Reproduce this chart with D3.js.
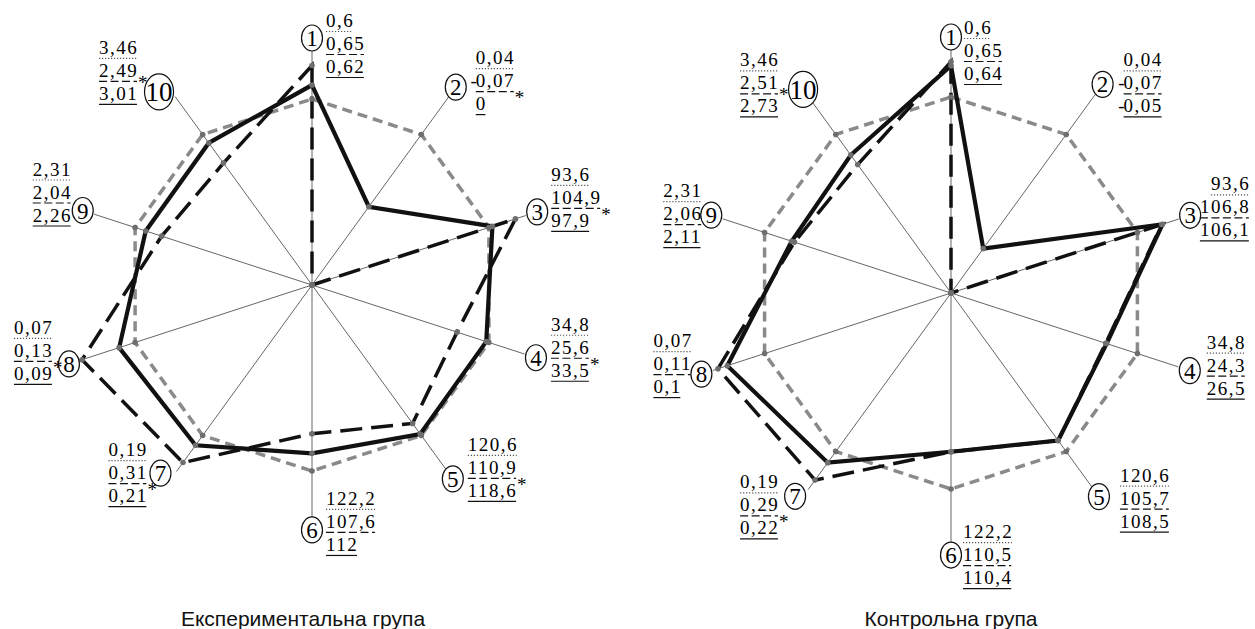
<!DOCTYPE html>
<html>
<head>
<meta charset="utf-8">
<script src="https://cdn.jsdelivr.net/npm/d3@7"></script>
<style>
  body { margin: 0; background: #fff; }
  svg { display: block; }
  .val { font-family: "Liberation Serif", "DejaVu Serif", serif; font-size: 19px; letter-spacing: 1.5px; fill: #000; }
  .num { font-family: "Liberation Serif", "DejaVu Serif", serif; fill: #000; }
  .title { font-family: "Liberation Sans", Arial, sans-serif; font-size: 21px; fill: #111; }
</style>
</head>
<body>
<svg width="1255" height="629"></svg>
<script>
// axis numbers
const axisNames = ["1", "2", "3", "4", "5", "6", "7", "8", "9", "10"];

// printed values, Експериментальна група
const expNormText = ["0,6", "0,04", "93,6", "34,8", "120,6", "122,2", "0,19", "0,07", "2,31", "3,46"];
const expMidText = ["0,65", "-0,07", "104,9", "25,6", "110,9", "107,6", "0,31", "0,13", "2,04", "2,49"];
const expEndText = ["0,62", "0", "97,9", "33,5", "118,6", "112", "0,21", "0,09", "2,26", "3,01"];
const expStars = [0, 1, 1, 1, 1, 0, 1, 1, 0, 1];

// printed values, Контрольна група
const ctrlNormText = ["0,6", "0,04", "93,6", "34,8", "120,6", "122,2", "0,19", "0,07", "2,31", "3,46"];
const ctrlMidText = ["0,65", "-0,07", "106,8", "24,3", "105,7", "110,5", "0,29", "0,11", "2,06", "2,51"];
const ctrlEndText = ["0,64", "-0,05", "106,1", "26,5", "108,5", "110,4", "0,22", "0,1", "2,11", "2,73"];
const ctrlStars = [0, 0, 0, 0, 0, 0, 1, 0, 0, 1];

// plotted scores (norm = 1)
const normScore = [1, 1, 1, 1, 1, 1, 1, 1, 1, 1];
const expSolid = [1.075, 0.52, 1.02, 0.985, 0.99, 0.905, 1.065, 1.09, 0.94, 0.944];
const expDashed = [1.18, 0, 1.15, 0.82, 0.92, 0.80, 1.18, 1.30, 0.85, 0.81];
const ctrlSolid = [1.16, 0.28, 1.135, 0.835, 0.93, 0.81, 1.07, 1.20, 0.855, 0.87];
const ctrlDashed = [1.18, 0, 1.13, 0.83, 0.93, 0.81, 1.18, 1.25, 0.84, 0.81];

const svg = d3.select("svg");

// label placement for each chart (layout only)
const expLayout = {
  cx: 312, cy: 285, unit: 186, titleX: 303,
  labelR: [1.328, 1.315, 1.273, 1.266, 1.288, 1.317, 1.304, 1.374, 1.296, 1.317],
  nudge: [[0, 0], [0, 0], [0, 0], [0, 0], [0, 0], [0, 0], [-9, -8], [0, 0], [0, 0], [-9, 5]],
  stackDx: [14, 20, 14, 15, 15, 14, -52, -55, -50, -60],
  stackDy: [-11, -23, -31, -27, -28, -25, -17, -30, -35, -38],
  anchor: ["start", "start", "start", "start", "start", "start", "start", "start", "start", "start"]
};
const ctrlLayout = {
  cx: 951, cy: 293, unit: 196, titleX: 951,
  labelR: [1.306, 1.316, 1.283, 1.281, 1.284, 1.337, 1.301, 1.339, 1.286, 1.284],
  nudge: [[0, 0], [0, 0], [0, 0], [0, 0], [0, 0], [0, 0], [-6, -3], [0, 0], [0, 0], [0, 0]],
  stackDx: [13, 21, 60, 17, 21, 12, -55, -48, -48, -63],
  stackDy: [-3, -18, -25, -22, -15, -17, -8, -27, -18, -23],
  anchor: ["start", "start", "end", "start", "start", "start", "start", "start", "start", "start"]
};

drawRadar(expLayout, "Експериментальна група",
  [expNormText, expMidText, expEndText], expStars, expSolid, expDashed);
drawRadar(ctrlLayout, "Контрольна група",
  [ctrlNormText, ctrlMidText, ctrlEndText], ctrlStars, ctrlSolid, ctrlDashed);

function drawRadar(lay, title, rows, stars, solid, dashed) {
  const g = svg.append("g").attr("transform", `translate(${lay.cx},${lay.cy})`);

  const angle = d3.scaleLinear().domain([0, axisNames.length]).range([0, 2 * Math.PI]);
  const radius = d3.scaleLinear().domain([0, 1]).range([0, lay.unit]);

  // spokes stop under the circled number
  g.selectAll("line.spoke")
    .data(axisNames)
    .join("line")
    .attr("class", "spoke")
    .attr("x1", 0).attr("y1", 0)
    .attr("x2", (d, i) => d3.pointRadial(angle(i), radius(lay.labelR[i]) - 12)[0])
    .attr("y2", (d, i) => d3.pointRadial(angle(i), radius(lay.labelR[i]) - 12)[1])
    .attr("stroke", "#666")
    .attr("stroke-width", 1);

  const radial = d3.lineRadial()
    .angle((d, i) => angle(i))
    .radius(d => radius(d))
    .curve(d3.curveLinearClosed);

  // norm polygon, then the two groups of measures
  g.append("path").attr("d", radial(normScore))
    .attr("fill", "none").attr("stroke", "#8a8a8a")
    .attr("stroke-width", 3.5).attr("stroke-dasharray", "10,6");
  g.append("path").attr("d", radial(dashed))
    .attr("fill", "none").attr("stroke", "#111")
    .attr("stroke-width", 3.5).attr("stroke-dasharray", "22,9");
  g.append("path").attr("d", radial(solid))
    .attr("fill", "none").attr("stroke", "#111")
    .attr("stroke-width", 4.2).attr("stroke-linejoin", "miter");

  // vertex dots
  [normScore, solid, dashed].forEach(series => {
    g.append("g").selectAll("circle")
      .data(series)
      .join("circle")
      .attr("cx", (d, i) => d3.pointRadial(angle(i), radius(d))[0])
      .attr("cy", (d, i) => d3.pointRadial(angle(i), radius(d))[1])
      .attr("r", 2.8)
      .attr("fill", "#6e6e6e");
  });

  // circled axis numbers
  const lbl = g.selectAll("g.lbl")
    .data(axisNames)
    .join("g")
    .attr("class", "lbl")
    .attr("transform", (d, i) => {
      const p = d3.pointRadial(angle(i), radius(lay.labelR[i]));
      return `translate(${p[0] + lay.nudge[i][0]},${p[1] + lay.nudge[i][1]})`;
    });
  lbl.append("ellipse")
    .attr("rx", d => d.length > 1 ? 14.5 : 10.5)
    .attr("ry", d => d.length > 1 ? 18 : 13)
    .attr("fill", "#fff").attr("stroke", "#111").attr("stroke-width", 1.2);
  lbl.append("text")
    .attr("class", "num")
    .attr("text-anchor", "middle")
    .attr("dy", "0.35em")
    .style("font-size", d => d.length > 1 ? "27px" : "23px")
    .text(d => d);

  // stacked values with their underlines
  const underline = ["1.2,1.8", "8,3.5", null];
  lbl.each(function (d, i) {
    const cell = d3.select(this);
    const x = lay.stackDx[i];
    let rightEnd = -Infinity;
    rows.forEach((row, r) => {
      const y = lay.stackDy[i] + r * 23;
      const s = row[i];
      const neg = s.startsWith("-");
      const t = cell.append("text")
        .attr("class", "val")
        .attr("x", x).attr("y", y)
        .attr("text-anchor", lay.anchor[i])
        .text(neg ? s.slice(1) : s);
      const b = t.node().getBBox();
      const x0 = b.x, x1 = b.x + b.width - 1.3;
      if (neg) {
        cell.append("text").attr("class", "val")
          .attr("x", x0 + 1).attr("y", y)
          .attr("text-anchor", "end")
          .style("letter-spacing", "0px")
          .text("-");
      }
      cell.append("line")
        .attr("x1", x0).attr("x2", x1)
        .attr("y1", y + 4.5).attr("y2", y + 4.5)
        .attr("stroke", r === 0 ? "#555" : "#111")
        .attr("stroke-width", 1.2)
        .attr("stroke-dasharray", underline[r]);
      if (r > 0) rightEnd = Math.max(rightEnd, x1);
    });
    if (stars[i]) {
      cell.append("text").attr("class", "num")
        .attr("x", rightEnd + 1)
        .attr("y", lay.stackDy[i] + 23 + (d.length > 1 ? 12 : 17))
        .style("font-size", "19px")
        .text("*");
    }
  });

  // center dot
  g.append("circle").attr("r", 3).attr("fill", "#6e6e6e");

  svg.append("text")
    .attr("class", "title")
    .attr("x", lay.titleX).attr("y", 626)
    .attr("text-anchor", "middle")
    .text(title);
}
</script>
</body>
</html>
